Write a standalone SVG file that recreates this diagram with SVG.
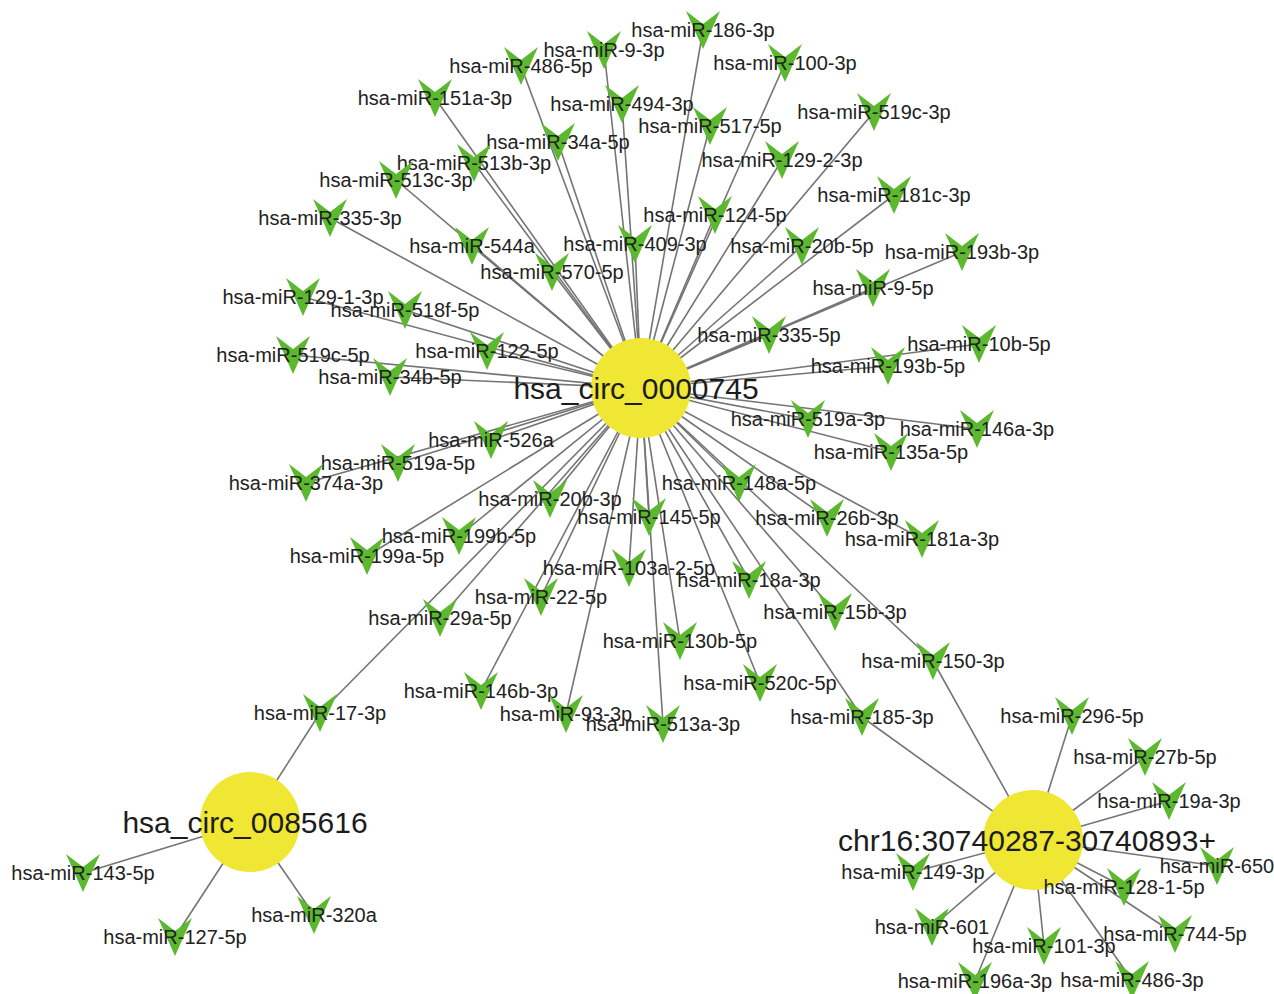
<svg xmlns="http://www.w3.org/2000/svg" xmlns:xlink="http://www.w3.org/1999/xlink" width="1274" height="994" viewBox="0 0 1274 994">
<style>
.e{stroke:#747474;stroke-width:1.6;fill:none}
.v{fill:#5bb82f}
.hub{fill:#efe733}
.t{font-family:"Liberation Sans",Arial,sans-serif;font-size:20px;fill:#222;text-anchor:middle;dominant-baseline:central}
.ht{font-family:"Liberation Sans",Arial,sans-serif;font-size:30px;fill:#1c1c1c;text-anchor:middle;dominant-baseline:central}
</style>
<defs>
<path id="vs" class="v" d="M-17,-19 L0,-6 L17,-19 L0,19 Z"/>
</defs>
<rect width="1274" height="994" fill="#ffffff"/>
<g id="edges">
<g transform="translate(641,388)">
<line class="e" x1="0" y1="0" x2="62" y2="-358"/>
<line class="e" x1="0" y1="0" x2="-37" y2="-338"/>
<line class="e" x1="0" y1="0" x2="-120" y2="-322"/>
<line class="e" x1="0" y1="0" x2="144" y2="-325"/>
<line class="e" x1="0" y1="0" x2="-206" y2="-290"/>
<line class="e" x1="0" y1="0" x2="-19" y2="-284"/>
<line class="e" x1="0" y1="0" x2="233" y2="-276"/>
<line class="e" x1="0" y1="0" x2="69" y2="-262"/>
<line class="e" x1="0" y1="0" x2="-83" y2="-246"/>
<line class="e" x1="0" y1="0" x2="-167" y2="-225"/>
<line class="e" x1="0" y1="0" x2="141" y2="-228"/>
<line class="e" x1="0" y1="0" x2="-245" y2="-208"/>
<line class="e" x1="0" y1="0" x2="253" y2="-193"/>
<line class="e" x1="0" y1="0" x2="-311" y2="-170"/>
<line class="e" x1="0" y1="0" x2="74" y2="-173"/>
<line class="e" x1="0" y1="0" x2="-169" y2="-142"/>
<line class="e" x1="0" y1="0" x2="-6" y2="-144"/>
<line class="e" x1="0" y1="0" x2="161" y2="-142"/>
<line class="e" x1="0" y1="0" x2="321" y2="-136"/>
<line class="e" x1="0" y1="0" x2="-89" y2="-116"/>
<line class="e" x1="0" y1="0" x2="232" y2="-100"/>
<line class="e" x1="0" y1="0" x2="-338" y2="-91"/>
<line class="e" x1="0" y1="0" x2="-236" y2="-78"/>
<line class="e" x1="0" y1="0" x2="128" y2="-53"/>
<line class="e" x1="0" y1="0" x2="338" y2="-44"/>
<line class="e" x1="0" y1="0" x2="-154" y2="-37"/>
<line class="e" x1="0" y1="0" x2="-348" y2="-33"/>
<line class="e" x1="0" y1="0" x2="247" y2="-22"/>
<line class="e" x1="0" y1="0" x2="-251" y2="-11"/>
<line class="e" x1="0" y1="0" x2="167" y2="31"/>
<line class="e" x1="0" y1="0" x2="336" y2="41"/>
<line class="e" x1="0" y1="0" x2="-150" y2="52"/>
<line class="e" x1="0" y1="0" x2="250" y2="64"/>
<line class="e" x1="0" y1="0" x2="-243" y2="75"/>
<line class="e" x1="0" y1="0" x2="-335" y2="95"/>
<line class="e" x1="0" y1="0" x2="98" y2="95"/>
<line class="e" x1="0" y1="0" x2="-91" y2="111"/>
<line class="e" x1="0" y1="0" x2="8" y2="129"/>
<line class="e" x1="0" y1="0" x2="186" y2="130"/>
<line class="e" x1="0" y1="0" x2="281" y2="151"/>
<line class="e" x1="0" y1="0" x2="-182" y2="148"/>
<line class="e" x1="0" y1="0" x2="-274" y2="168"/>
<line class="e" x1="0" y1="0" x2="-12" y2="180"/>
<line class="e" x1="0" y1="0" x2="108" y2="192"/>
<line class="e" x1="0" y1="0" x2="-100" y2="209"/>
<line class="e" x1="0" y1="0" x2="194" y2="224"/>
<line class="e" x1="0" y1="0" x2="-201" y2="230"/>
<line class="e" x1="0" y1="0" x2="39" y2="253"/>
<line class="e" x1="0" y1="0" x2="292" y2="273"/>
<line class="e" x1="0" y1="0" x2="119" y2="295"/>
<line class="e" x1="0" y1="0" x2="-160" y2="303"/>
<line class="e" x1="0" y1="0" x2="-75" y2="326"/>
<line class="e" x1="0" y1="0" x2="22" y2="336"/>
<line class="e" x1="0" y1="0" x2="221" y2="329"/>
<line class="e" x1="0" y1="0" x2="-321" y2="325"/>
</g>
<line class="e" x1="250" y1="822" x2="320" y2="713"/>
<line class="e" x1="250" y1="822" x2="83" y2="873"/>
<line class="e" x1="250" y1="822" x2="175" y2="937"/>
<line class="e" x1="250" y1="822" x2="314" y2="915"/>
<line class="e" x1="1033" y1="840" x2="933" y2="661"/>
<line class="e" x1="1033" y1="840" x2="862" y2="717"/>
<line class="e" x1="1033" y1="840" x2="1072" y2="716"/>
<line class="e" x1="1033" y1="840" x2="1145" y2="757"/>
<line class="e" x1="1033" y1="840" x2="1169" y2="801"/>
<line class="e" x1="1033" y1="840" x2="1217" y2="866"/>
<line class="e" x1="1033" y1="840" x2="913" y2="872"/>
<line class="e" x1="1033" y1="840" x2="1124" y2="887"/>
<line class="e" x1="1033" y1="840" x2="932" y2="927"/>
<line class="e" x1="1033" y1="840" x2="1175" y2="934"/>
<line class="e" x1="1033" y1="840" x2="1044" y2="946"/>
<line class="e" x1="1033" y1="840" x2="975" y2="981"/>
<line class="e" x1="1033" y1="840" x2="1132" y2="980"/>
</g>
<g id="hubs">
<g id="hsa_circ_0000745"><circle class="hub" cx="641" cy="388" r="50"/><text class="ht" x="636" y="388">hsa_circ_0000745</text></g>
<g id="hsa_circ_0085616"><circle class="hub" cx="250" cy="822" r="50"/><text class="ht" x="245" y="822">hsa_circ_0085616</text></g>
<g id="chr16"><circle class="hub" cx="1033" cy="840" r="50"/><text class="ht" x="1027" y="840">chr16:30740287-30740893+</text></g>
</g>
<g id="mirnas">
<g id="m186_3p"><use xlink:href="#vs" x="703" y="30"/><text class="t" x="703" y="30">hsa-miR-186-3p</text></g>
<g id="m9_3p"><use xlink:href="#vs" x="604" y="50"/><text class="t" x="604" y="50">hsa-miR-9-3p</text></g>
<g id="m486_5p"><use xlink:href="#vs" x="521" y="66"/><text class="t" x="521" y="66">hsa-miR-486-5p</text></g>
<g id="m100_3p"><use xlink:href="#vs" x="785" y="63"/><text class="t" x="785" y="63">hsa-miR-100-3p</text></g>
<g id="m151a_3p"><use xlink:href="#vs" x="435" y="98"/><text class="t" x="435" y="98">hsa-miR-151a-3p</text></g>
<g id="m494_3p"><use xlink:href="#vs" x="622" y="104"/><text class="t" x="622" y="104">hsa-miR-494-3p</text></g>
<g id="m519c_3p"><use xlink:href="#vs" x="874" y="112"/><text class="t" x="874" y="112">hsa-miR-519c-3p</text></g>
<g id="m517_5p"><use xlink:href="#vs" x="710" y="126"/><text class="t" x="710" y="126">hsa-miR-517-5p</text></g>
<g id="m34a_5p"><use xlink:href="#vs" x="558" y="142"/><text class="t" x="558" y="142">hsa-miR-34a-5p</text></g>
<g id="m513b_3p"><use xlink:href="#vs" x="474" y="163"/><text class="t" x="474" y="163">hsa-miR-513b-3p</text></g>
<g id="m129_2_3p"><use xlink:href="#vs" x="782" y="160"/><text class="t" x="782" y="160">hsa-miR-129-2-3p</text></g>
<g id="m513c_3p"><use xlink:href="#vs" x="396" y="180"/><text class="t" x="396" y="180">hsa-miR-513c-3p</text></g>
<g id="m181c_3p"><use xlink:href="#vs" x="894" y="195"/><text class="t" x="894" y="195">hsa-miR-181c-3p</text></g>
<g id="m335_3p"><use xlink:href="#vs" x="330" y="218"/><text class="t" x="330" y="218">hsa-miR-335-3p</text></g>
<g id="m124_5p"><use xlink:href="#vs" x="715" y="215"/><text class="t" x="715" y="215">hsa-miR-124-5p</text></g>
<g id="m544a"><use xlink:href="#vs" x="472" y="246"/><text class="t" x="472" y="246">hsa-miR-544a</text></g>
<g id="m409_3p"><use xlink:href="#vs" x="635" y="244"/><text class="t" x="635" y="244">hsa-miR-409-3p</text></g>
<g id="m20b_5p"><use xlink:href="#vs" x="802" y="246"/><text class="t" x="802" y="246">hsa-miR-20b-5p</text></g>
<g id="m193b_3p"><use xlink:href="#vs" x="962" y="252"/><text class="t" x="962" y="252">hsa-miR-193b-3p</text></g>
<g id="m570_5p"><use xlink:href="#vs" x="552" y="272"/><text class="t" x="552" y="272">hsa-miR-570-5p</text></g>
<g id="m9_5p"><use xlink:href="#vs" x="873" y="288"/><text class="t" x="873" y="288">hsa-miR-9-5p</text></g>
<g id="m129_1_3p"><use xlink:href="#vs" x="303" y="297"/><text class="t" x="303" y="297">hsa-miR-129-1-3p</text></g>
<g id="m518f_5p"><use xlink:href="#vs" x="405" y="310"/><text class="t" x="405" y="310">hsa-miR-518f-5p</text></g>
<g id="m335_5p"><use xlink:href="#vs" x="769" y="335"/><text class="t" x="769" y="335">hsa-miR-335-5p</text></g>
<g id="m10b_5p"><use xlink:href="#vs" x="979" y="344"/><text class="t" x="979" y="344">hsa-miR-10b-5p</text></g>
<g id="m122_5p"><use xlink:href="#vs" x="487" y="351"/><text class="t" x="487" y="351">hsa-miR-122-5p</text></g>
<g id="m519c_5p"><use xlink:href="#vs" x="293" y="355"/><text class="t" x="293" y="355">hsa-miR-519c-5p</text></g>
<g id="m193b_5p"><use xlink:href="#vs" x="888" y="366"/><text class="t" x="888" y="366">hsa-miR-193b-5p</text></g>
<g id="m34b_5p"><use xlink:href="#vs" x="390" y="377"/><text class="t" x="390" y="377">hsa-miR-34b-5p</text></g>
<g id="m519a_3p"><use xlink:href="#vs" x="808" y="419"/><text class="t" x="808" y="419">hsa-miR-519a-3p</text></g>
<g id="m146a_3p"><use xlink:href="#vs" x="977" y="429"/><text class="t" x="977" y="429">hsa-miR-146a-3p</text></g>
<g id="m526a"><use xlink:href="#vs" x="491" y="440"/><text class="t" x="491" y="440">hsa-miR-526a</text></g>
<g id="m135a_5p"><use xlink:href="#vs" x="891" y="452"/><text class="t" x="891" y="452">hsa-miR-135a-5p</text></g>
<g id="m519a_5p"><use xlink:href="#vs" x="398" y="463"/><text class="t" x="398" y="463">hsa-miR-519a-5p</text></g>
<g id="m374a_3p"><use xlink:href="#vs" x="306" y="483"/><text class="t" x="306" y="483">hsa-miR-374a-3p</text></g>
<g id="m148a_5p"><use xlink:href="#vs" x="739" y="483"/><text class="t" x="739" y="483">hsa-miR-148a-5p</text></g>
<g id="m20b_3p"><use xlink:href="#vs" x="550" y="499"/><text class="t" x="550" y="499">hsa-miR-20b-3p</text></g>
<g id="m145_5p"><use xlink:href="#vs" x="649" y="517"/><text class="t" x="649" y="517">hsa-miR-145-5p</text></g>
<g id="m26b_3p"><use xlink:href="#vs" x="827" y="518"/><text class="t" x="827" y="518">hsa-miR-26b-3p</text></g>
<g id="m181a_3p"><use xlink:href="#vs" x="922" y="539"/><text class="t" x="922" y="539">hsa-miR-181a-3p</text></g>
<g id="m199b_5p"><use xlink:href="#vs" x="459" y="536"/><text class="t" x="459" y="536">hsa-miR-199b-5p</text></g>
<g id="m199a_5p"><use xlink:href="#vs" x="367" y="556"/><text class="t" x="367" y="556">hsa-miR-199a-5p</text></g>
<g id="m103a_2_5p"><use xlink:href="#vs" x="629" y="568"/><text class="t" x="629" y="568">hsa-miR-103a-2-5p</text></g>
<g id="m18a_3p"><use xlink:href="#vs" x="749" y="580"/><text class="t" x="749" y="580">hsa-miR-18a-3p</text></g>
<g id="m22_5p"><use xlink:href="#vs" x="541" y="597"/><text class="t" x="541" y="597">hsa-miR-22-5p</text></g>
<g id="m15b_3p"><use xlink:href="#vs" x="835" y="612"/><text class="t" x="835" y="612">hsa-miR-15b-3p</text></g>
<g id="m29a_5p"><use xlink:href="#vs" x="440" y="618"/><text class="t" x="440" y="618">hsa-miR-29a-5p</text></g>
<g id="m130b_5p"><use xlink:href="#vs" x="680" y="641"/><text class="t" x="680" y="641">hsa-miR-130b-5p</text></g>
<g id="m150_3p"><use xlink:href="#vs" x="933" y="661"/><text class="t" x="933" y="661">hsa-miR-150-3p</text></g>
<g id="m520c_5p"><use xlink:href="#vs" x="760" y="683"/><text class="t" x="760" y="683">hsa-miR-520c-5p</text></g>
<g id="m146b_3p"><use xlink:href="#vs" x="481" y="691"/><text class="t" x="481" y="691">hsa-miR-146b-3p</text></g>
<g id="m93_3p"><use xlink:href="#vs" x="566" y="714"/><text class="t" x="566" y="714">hsa-miR-93-3p</text></g>
<g id="m513a_3p"><use xlink:href="#vs" x="663" y="724"/><text class="t" x="663" y="724">hsa-miR-513a-3p</text></g>
<g id="m185_3p"><use xlink:href="#vs" x="862" y="717"/><text class="t" x="862" y="717">hsa-miR-185-3p</text></g>
<g id="m17_3p"><use xlink:href="#vs" x="320" y="713"/><text class="t" x="320" y="713">hsa-miR-17-3p</text></g>
<g id="m143_5p"><use xlink:href="#vs" x="83" y="873"/><text class="t" x="83" y="873">hsa-miR-143-5p</text></g>
<g id="m127_5p"><use xlink:href="#vs" x="175" y="937"/><text class="t" x="175" y="937">hsa-miR-127-5p</text></g>
<g id="m320a"><use xlink:href="#vs" x="314" y="915"/><text class="t" x="314" y="915">hsa-miR-320a</text></g>
<g id="m296_5p"><use xlink:href="#vs" x="1072" y="716"/><text class="t" x="1072" y="716">hsa-miR-296-5p</text></g>
<g id="m27b_5p"><use xlink:href="#vs" x="1145" y="757"/><text class="t" x="1145" y="757">hsa-miR-27b-5p</text></g>
<g id="m19a_3p"><use xlink:href="#vs" x="1169" y="801"/><text class="t" x="1169" y="801">hsa-miR-19a-3p</text></g>
<g id="m650"><use xlink:href="#vs" x="1217" y="866"/><text class="t" x="1217" y="866">hsa-miR-650</text></g>
<g id="m149_3p"><use xlink:href="#vs" x="913" y="872"/><text class="t" x="913" y="872">hsa-miR-149-3p</text></g>
<g id="m128_1_5p"><use xlink:href="#vs" x="1124" y="887"/><text class="t" x="1124" y="887">hsa-miR-128-1-5p</text></g>
<g id="m601"><use xlink:href="#vs" x="932" y="927"/><text class="t" x="932" y="927">hsa-miR-601</text></g>
<g id="m744_5p"><use xlink:href="#vs" x="1175" y="934"/><text class="t" x="1175" y="934">hsa-miR-744-5p</text></g>
<g id="m101_3p"><use xlink:href="#vs" x="1044" y="946"/><text class="t" x="1044" y="946">hsa-miR-101-3p</text></g>
<g id="m196a_3p"><use xlink:href="#vs" x="975" y="981"/><text class="t" x="975" y="981">hsa-miR-196a-3p</text></g>
<g id="m486_3p"><use xlink:href="#vs" x="1132" y="980"/><text class="t" x="1132" y="980">hsa-miR-486-3p</text></g>
</g>
</svg>
